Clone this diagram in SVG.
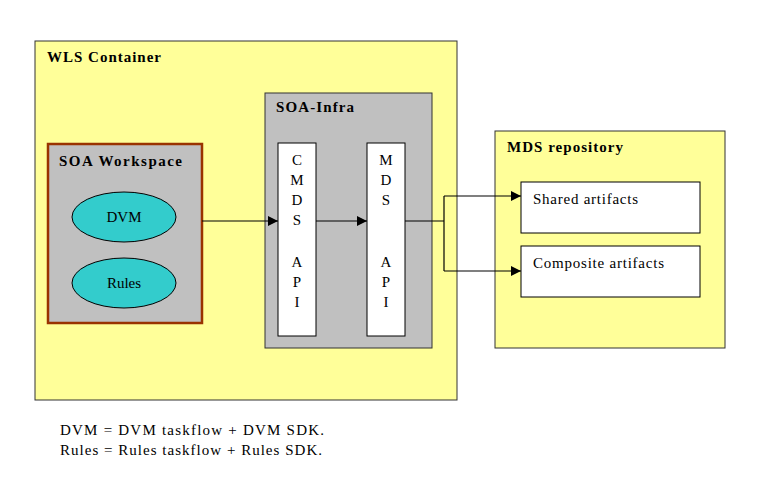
<svg xmlns="http://www.w3.org/2000/svg" width="773" height="485" viewBox="0 0 773 485">
<style>
text{font-family:"Liberation Serif",serif;font-size:15px;fill:#000}
.b{font-weight:bold}
.c{text-anchor:middle}
.ln{stroke:#000;stroke-width:1.2;fill:none}
</style>
<defs><marker id="a" markerWidth="10" markerHeight="10" refX="10" refY="5" orient="auto" markerUnits="userSpaceOnUse"><path d="M0,0L10,5L0,10z" fill="#000"/></marker></defs>
<rect width="773" height="485" fill="#fff"/>
<g id="wls"><rect x="35" y="41" width="422" height="359" fill="#ffff99" stroke="#333"/><text class="b" x="47" y="62" textLength="114">WLS Container</text></g>
<g id="infra"><rect x="265" y="93" width="167" height="255" fill="#c0c0c0" stroke="#333"/><text class="b" x="276" y="112" textLength="78">SOA-Infra</text></g>
<g id="cmds"><rect x="278" y="143" width="38" height="193" fill="#fff" stroke="#000"/>
<text class="c" x="297" y="165">C</text><text class="c" x="297" y="185">M</text><text class="c" x="297" y="205">D</text><text class="c" x="297" y="225">S</text><text class="c" x="297" y="267">A</text><text class="c" x="297" y="287">P</text><text class="c" x="297" y="307">I</text></g>
<g id="mds"><rect x="367" y="143" width="38" height="193" fill="#fff" stroke="#000"/>
<text class="c" x="386" y="165">M</text><text class="c" x="386" y="185">D</text><text class="c" x="386" y="205">S</text><text class="c" x="386" y="267">A</text><text class="c" x="386" y="287">P</text><text class="c" x="386" y="307">I</text></g>
<g id="ws"><rect x="48" y="144" width="154" height="179" fill="#c0c0c0" stroke="#993300" stroke-width="2.5"/><text class="b" x="59" y="166" textLength="123">SOA Workspace</text></g>
<g id="dvm"><ellipse cx="124" cy="217" rx="52" ry="25" fill="#33cccc" stroke="#000"/><text class="c" x="124" y="222">DVM</text></g>
<g id="rules"><ellipse cx="124" cy="283" rx="52" ry="25" fill="#33cccc" stroke="#000"/><text class="c" x="124" y="288">Rules</text></g>
<g id="repo"><rect x="495" y="131" width="230" height="217" fill="#ffff99" stroke="#333"/><text class="b" x="507" y="152" textLength="116">MDS repository</text></g>
<g id="shared"><rect x="521" y="182" width="179" height="51" fill="#fff" stroke="#000"/><text x="533" y="204" textLength="105">Shared artifacts</text></g>
<g id="comp"><rect x="521" y="246" width="179" height="51" fill="#fff" stroke="#000"/><text x="533" y="268" textLength="131">Composite artifacts</text></g>
<g id="connectors">
<path class="ln" d="M202,221H278" marker-end="url(#a)"/>
<path class="ln" d="M316,221H367" marker-end="url(#a)"/>
<path class="ln" d="M405,221H444"/>
<path class="ln" d="M444,196V271"/>
<path class="ln" d="M444,196H521" marker-end="url(#a)"/>
<path class="ln" d="M444,271H521" marker-end="url(#a)"/>
</g>
<text x="60" y="435" textLength="264">DVM = DVM taskflow + DVM SDK.</text>
<text x="60" y="455" textLength="262">Rules = Rules taskflow  + Rules SDK.</text>
</svg>
